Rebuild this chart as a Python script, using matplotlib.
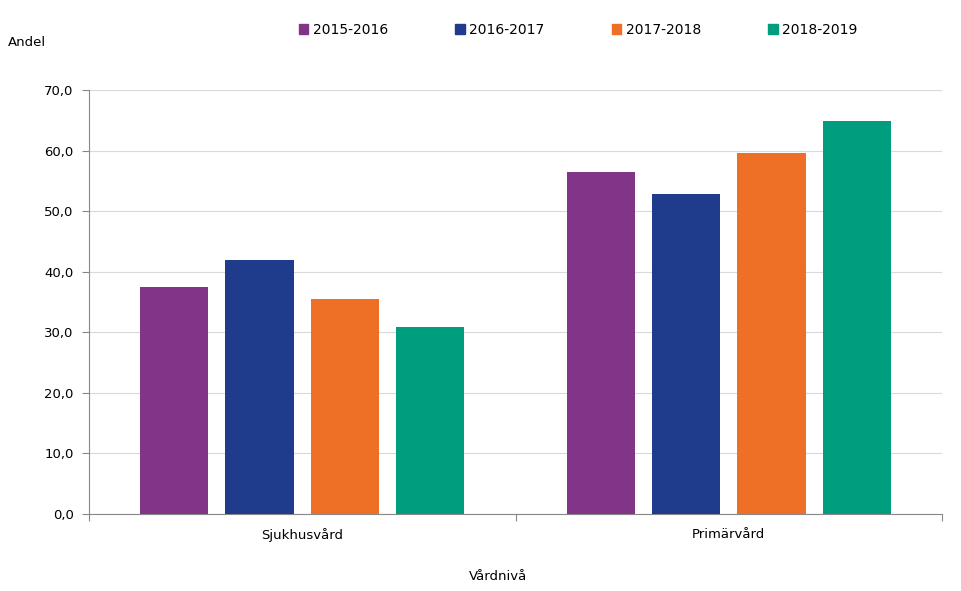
import numpy as np
import matplotlib.pyplot as plt
from matplotlib.patches import Patch

categories = ["Sjukhusvård", "Primärvård"]
periods = ["2015-2016", "2016-2017", "2017-2018", "2018-2019"]
values = {
    "2015-2016": [37.5, 56.5],
    "2016-2017": [41.9, 52.8],
    "2017-2018": [35.5, 59.6],
    "2018-2019": [30.9, 64.9],
}
colors = ["#823588", "#1f3b8c", "#ee7027", "#009e7e"]

plt.rcParams['font.family'] = ['DejaVu Sans']

fig = plt.figure(figsize=(9.61, 5.91), dpi=100)
ax = fig.add_axes([89 / 961, 1 - 514 / 591, (942 - 89) / 961, (514 - 90) / 591])

x = np.arange(len(categories))
step = 0.2
width = 0.16
for i, p in enumerate(periods):
    ax.bar(x + (i - 1.5) * step, values[p], width=width, color=colors[i], zorder=3)

ax.set_xlim(-0.5, 1.5)
ax.set_ylim(0, 70)
ax.set_yticks(np.arange(0, 71, 10))
ax.set_yticklabels([f"{v:.1f}".replace(".", ",") for v in np.arange(0, 71, 10)], fontsize=9.5)
ax.set_xticks([-0.5, 0.5, 1.5])
ax.set_xticklabels([])
ax.set_xticks(x, minor=True)
ax.set_xticklabels(categories, minor=True, fontsize=9.5)
ax.tick_params(axis='x', which='minor', length=0, pad=10)
ax.tick_params(axis='x', which='major', length=5, color='#888888')
ax.tick_params(axis='y', length=5, color='#888888', pad=6)

ax.grid(axis='y', color='#d9d9d9', linewidth=0.8, zorder=0)
for s in ['top', 'right']:
    ax.spines[s].set_visible(False)
for s in ['left', 'bottom']:
    ax.spines[s].set_color('#888888')

fig.text(8 / 961, 1 - 43 / 591, "Andel", fontsize=9.5, va='center', ha='left')
fig.text(498 / 961, 1 - 576 / 591, "Vårdnivå", fontsize=9.5, va='center', ha='center')

handles = [Patch(color=c) for c in colors]
fig.legend(handles, periods, loc='center', bbox_to_anchor=(578 / 961, 1 - 30 / 591), ncol=4,
           frameon=False, fontsize=10, handlelength=0.7, handleheight=0.7,
           handletextpad=0.3, columnspacing=4.85)

fig.savefig("out.png", dpi=100)
